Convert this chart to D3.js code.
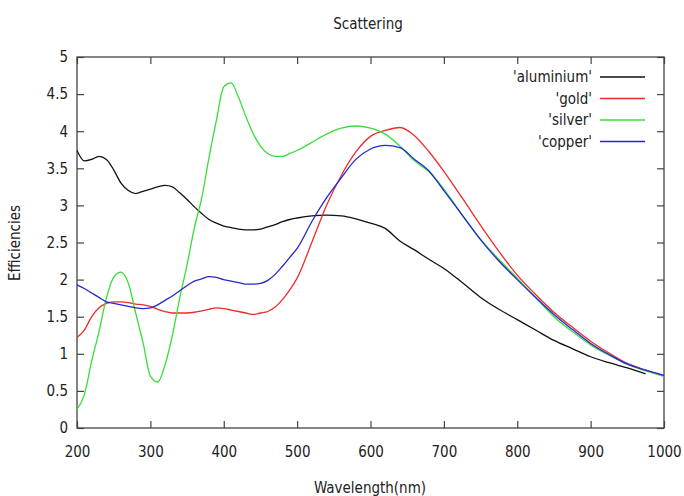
<!DOCTYPE html>
<html>
  <head>
    <meta charset="utf-8" />
    <title>Scattering</title>
    <style>
      body {
        margin: 0;
        background: #fff;
      }
      svg text {
        font-family: "DejaVu Sans Condensed", "DejaVu Sans", sans-serif;
        font-stretch: condensed;
        font-size: 15px;
        fill: #222;
      }
    </style>
  </head>
  <body>
    <div id="chart"></div>
    <script src="https://cdn.jsdelivr.net/npm/d3@7"></script>
    <script>
      // wavelengths (nm) shared by all series
      var wavelengths = [200, 210, 220, 230, 240, 250, 260, 270, 280, 290,
        300, 310, 320, 330, 340, 350, 360, 370, 380, 390,
        400, 410, 420, 430, 440, 450, 460, 470, 480, 490,
        500, 520, 540, 560, 580, 600, 620, 640, 660, 680,
        700, 725, 750, 775, 800, 825, 850, 875, 900, 925, 950, 975, 1000];

      var aluminium = [3.74, 3.60, 3.62, 3.66, 3.62, 3.48, 3.30, 3.20, 3.16, 3.19,
        3.22, 3.25, 3.27, 3.25, 3.17, 3.08, 2.98, 2.89, 2.81, 2.76,
        2.72, 2.70, 2.68, 2.67, 2.67, 2.68, 2.71, 2.74, 2.78, 2.81,
        2.83, 2.86, 2.87, 2.86, 2.82, 2.76, 2.69, 2.52, 2.40, 2.27,
        2.15, 1.96, 1.76, 1.60, 1.46, 1.32, 1.18, 1.07, 0.96, 0.88, 0.81, 0.73, null];

      var gold = [1.22, 1.32, 1.50, 1.62, 1.68, 1.70, 1.70, 1.69, 1.67, 1.66,
        1.64, 1.60, 1.57, 1.55, 1.55, 1.55, 1.56, 1.58, 1.60, 1.62,
        1.61, 1.59, 1.57, 1.55, 1.53, 1.55, 1.57, 1.63, 1.73, 1.86,
        2.02, 2.50, 3.00, 3.40, 3.72, 3.93, 4.01, 4.05, 3.94, 3.72,
        3.46, 3.10, 2.73, 2.38, 2.06, 1.80, 1.56, 1.36, 1.17, 1.01, 0.87, 0.78, 0.70];

      var silver = [0.25, 0.45, 0.90, 1.30, 1.75, 2.03, 2.10, 1.95, 1.55, 1.15,
        0.70, 0.62, 0.85, 1.25, 1.75, 2.20, 2.70, 3.10, 3.65, 4.15,
        4.60, 4.65, 4.46, 4.20, 3.97, 3.80, 3.70, 3.66, 3.66, 3.70,
        3.74, 3.85, 3.96, 4.04, 4.07, 4.04, 3.96, 3.80, 3.60, 3.45,
        3.22, 2.87, 2.54, 2.27, 2.02, 1.76, 1.50, 1.30, 1.12, 0.98, 0.86, 0.77, 0.70];

      var copper = [1.93, 1.88, 1.82, 1.76, 1.70, 1.68, 1.66, 1.64, 1.62, 1.61,
        1.62, 1.66, 1.72, 1.78, 1.85, 1.92, 1.98, 2.01, 2.04, 2.03,
        2.00, 1.98, 1.96, 1.94, 1.94, 1.95, 1.99, 2.07, 2.18, 2.30,
        2.42, 2.78, 3.10, 3.37, 3.62, 3.76, 3.81, 3.78, 3.62, 3.46,
        3.20, 2.87, 2.54, 2.25, 2.00, 1.76, 1.53, 1.33, 1.14, 0.99, 0.86, 0.78, 0.71];

      var seriesNames = ["'aluminium'", "'gold'", "'silver'", "'copper'"];
      var seriesValues = [aluminium, gold, silver, copper];
      var seriesColors = ["#111111", "#ee2a2a", "#3ade3a", "#2626d2"];

      var xTicks = [200, 300, 400, 500, 600, 700, 800, 900, 1000];
      var yTicks = [0, 0.5, 1, 1.5, 2, 2.5, 3, 3.5, 4, 4.5, 5];

      var width = 684, height = 496;
      var margin = { top: 57, right: 20, bottom: 68, left: 77 };
      var innerW = width - margin.left - margin.right;
      var innerH = height - margin.top - margin.bottom;
      var tickLen = 7;

      var svg = d3.select("#chart").append("svg")
        .attr("width", width)
        .attr("height", height);

      var g = svg.append("g")
        .attr("transform", "translate(" + margin.left + "," + margin.top + ")");

      var x = d3.scaleLinear().domain([200, 1000]).range([0, innerW]);
      var y = d3.scaleLinear().domain([0, 5]).range([innerH, 0]);

      // axes: labels outside, ticks pointing inward (gnuplot style)
      var xAxis = g.append("g")
        .attr("transform", "translate(0," + innerH + ")")
        .call(d3.axisBottom(x).tickValues(xTicks).tickSize(-tickLen).tickPadding(18)
          .tickFormat(d3.format("d")));
      var xTop = g.append("g")
        .call(d3.axisTop(x).tickValues(xTicks).tickSize(-tickLen).tickFormat(""));
      var yAxis = g.append("g")
        .call(d3.axisLeft(y).tickValues(yTicks).tickSize(-tickLen).tickPadding(9)
          .tickFormat(d3.format("")));
      var yRight = g.append("g")
        .attr("transform", "translate(" + innerW + ",0)")
        .call(d3.axisRight(y).tickValues(yTicks).tickSize(-tickLen).tickFormat(""));

      [xAxis, xTop, yAxis, yRight].forEach(function(a) {
        a.select(".domain").remove();
        a.selectAll("line").attr("stroke", "#444").attr("stroke-width", 1.2);
        a.selectAll("text").attr("font-size", null).attr("font-family", null).attr("fill", "#222");
      });

      // border box
      g.append("rect")
        .attr("width", innerW)
        .attr("height", innerH)
        .attr("fill", "none")
        .attr("stroke", "#444")
        .attr("stroke-width", 1.3);

      var line = d3.line()
        .defined(function(d) { return d[1] != null; })
        .x(function(d) { return x(d[0]); })
        .y(function(d) { return y(d[1]); })
        .curve(d3.curveMonotoneX);

      seriesValues.forEach(function(vals, i) {
        var pts = wavelengths.map(function(w, j) { return [w, vals[j]]; });
        g.append("path")
          .datum(pts)
          .attr("fill", "none")
          .attr("stroke", seriesColors[i])
          .attr("stroke-width", 1.3)
          .attr("d", line);
      });

      // legend, top right
      var legend = g.append("g").attr("transform", "translate(" + (innerW - 72) + ",20)");
      seriesNames.forEach(function(name, i) {
        var row = legend.append("g").attr("transform", "translate(0," + (i * 21.5) + ")");
        row.append("text")
          .attr("x", 0)
          .attr("dy", "0.35em")
          .attr("text-anchor", "end")
          .text(name);
        row.append("line")
          .attr("x1", 8).attr("x2", 53)
          .attr("stroke", seriesColors[i])
          .attr("stroke-width", 1.3);
      });

      // titles
      svg.append("text")
        .attr("x", 368)
        .attr("y", 29)
        .attr("text-anchor", "middle")
        .text("Scattering");

      svg.append("text")
        .attr("x", 370)
        .attr("y", 493)
        .attr("text-anchor", "middle")
        .text("Wavelength(nm)");

      svg.append("text")
        .attr("transform", "translate(20,243) rotate(-90)")
        .attr("text-anchor", "middle")
        .text("Efficiencies");
    </script>
  </body>
</html>
